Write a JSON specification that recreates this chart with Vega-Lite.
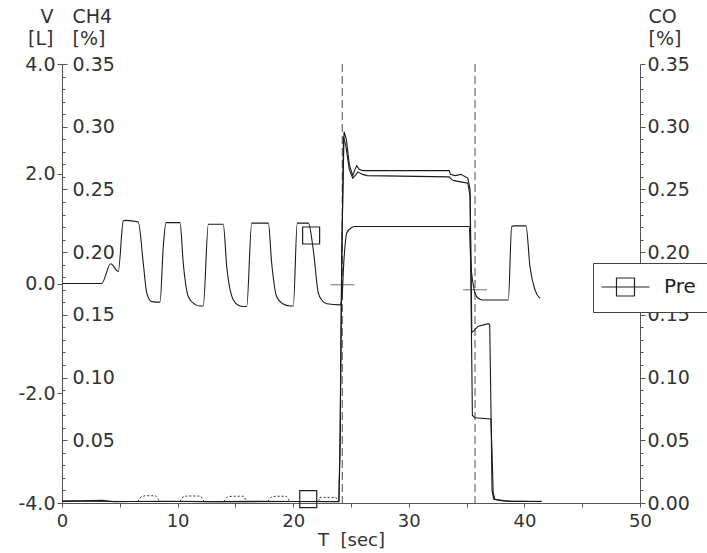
{
  "$schema": "https://vega.github.io/schema/vega-lite/v6.json",
  "width": 578,
  "height": 439,
  "autosize": {"type": "none"},
  "padding": {"left": 62, "top": 64, "right": 67, "bottom": 50},
  "background": "white",
  "config": {
    "view": {"stroke": null},
    "font": "DejaVu Sans",
    "axis": {
      "labelFont": "DejaVu Sans", "labelFontSize": 19, "labelColor": "#333",
      "titleFont": "DejaVu Sans", "titleFontSize": 19, "titleFontWeight": "normal", "titleColor": "#333",
      "domainColor": "#555", "tickColor": "#555", "grid": false, "labelFlush": false, "labelOverlap": false
    }
  },
  "datasets": {
    "events": [{"t": 24.25}, {"t": 35.73}],
    "squares": [{"series": "Pre", "t": 21.55, "v": 0.875}, {"series": "Pre", "t": 21.3, "v": -3.93}],
    "crosses": [{"t": 24.25, "c": 0.174}, {"t": 35.73, "c": 0.170}],
    "curves": [
      {"s": "V", "t": 0, "v": 0}, {"s": "V", "t": 3.43, "v": 0}, {"s": "V", "t": 4.21, "v": 0.36}, {"s": "V", "t": 4.87, "v": 0.22},
      {"s": "V", "t": 5.3, "v": 1.14}, {"s": "V", "t": 5.5, "v": 1.15}, {"s": "V", "t": 6.6, "v": 1.12}, {"s": "V", "t": 7.03, "v": 0.37},
      {"s": "V", "t": 7.33, "v": -0.17}, {"s": "V", "t": 7.76, "v": -0.33}, {"s": "V", "t": 8.48, "v": -0.34}, {"s": "V", "t": 8.76, "v": 0.67},
      {"s": "V", "t": 9.0, "v": 1.11}, {"s": "V", "t": 10.21, "v": 1.11}, {"s": "V", "t": 10.49, "v": 0.37}, {"s": "V", "t": 10.93, "v": -0.24},
      {"s": "V", "t": 11.5, "v": -0.38}, {"s": "V", "t": 11.94, "v": -0.41}, {"s": "V", "t": 12.22, "v": -0.41}, {"s": "V", "t": 12.66, "v": 1.08},
      {"s": "V", "t": 13.95, "v": 1.08}, {"s": "V", "t": 14.25, "v": 0.31}, {"s": "V", "t": 14.82, "v": -0.3}, {"s": "V", "t": 15.3, "v": -0.4},
      {"s": "V", "t": 15.68, "v": -0.42}, {"s": "V", "t": 15.98, "v": -0.42}, {"s": "V", "t": 16.41, "v": 1.1}, {"s": "V", "t": 17.85, "v": 1.1},
      {"s": "V", "t": 18.14, "v": 0.37}, {"s": "V", "t": 18.57, "v": -0.24}, {"s": "V", "t": 19.1, "v": -0.37}, {"s": "V", "t": 19.72, "v": -0.41},
      {"s": "V", "t": 20.01, "v": -0.41}, {"s": "V", "t": 20.35, "v": 1.1}, {"s": "V", "t": 21.31, "v": 1.1}, {"s": "V", "t": 21.74, "v": 0.61},
      {"s": "V", "t": 22.17, "v": -0.17}, {"s": "V", "t": 22.5, "v": -0.31}, {"s": "V", "t": 22.9, "v": -0.37}, {"s": "V", "t": 24.05, "v": -0.39},
      {"s": "V", "t": 24.2, "v": -0.3}, {"s": "V", "t": 24.39, "v": 0.43}, {"s": "V", "t": 24.63, "v": 0.92}, {"s": "V", "t": 25.06, "v": 1.02},
      {"s": "V", "t": 25.35, "v": 1.04}, {"s": "V", "t": 35.23, "v": 1.04}, {"s": "V", "t": 35.35, "v": 0.43}, {"s": "V", "t": 35.58, "v": -0.03},
      {"s": "V", "t": 35.87, "v": -0.24}, {"s": "V", "t": 36.2, "v": -0.29}, {"s": "V", "t": 36.45, "v": -0.3}, {"s": "V", "t": 38.61, "v": -0.3},
      {"s": "V", "t": 38.9, "v": 1.04}, {"s": "V", "t": 39.1, "v": 1.05}, {"s": "V", "t": 40.14, "v": 1.05}, {"s": "V", "t": 40.48, "v": 0.31},
      {"s": "V", "t": 40.92, "v": -0.12}, {"s": "V", "t": 41.35, "v": -0.27},

      {"s": "CH4", "t": 0, "v": 0.0015}, {"s": "CH4", "t": 1.5, "v": 0.0018}, {"s": "CH4", "t": 3.5, "v": 0.0022}, {"s": "CH4", "t": 4.5, "v": 0.001},
      {"s": "CH4", "t": 6, "v": 0.0012}, {"s": "CH4", "t": 9, "v": 0.0014}, {"s": "CH4", "t": 13, "v": 0.0011}, {"s": "CH4", "t": 17, "v": 0.0013},
      {"s": "CH4", "t": 20, "v": 0.0012}, {"s": "CH4", "t": 23.95, "v": 0.0012}, {"s": "CH4", "t": 24.05, "v": 0.05}, {"s": "CH4", "t": 24.2, "v": 0.2},
      {"s": "CH4", "t": 24.4, "v": 0.296}, {"s": "CH4", "t": 24.6, "v": 0.29}, {"s": "CH4", "t": 24.85, "v": 0.27}, {"s": "CH4", "t": 25.15, "v": 0.261},
      {"s": "CH4", "t": 25.35, "v": 0.266}, {"s": "CH4", "t": 25.5, "v": 0.269}, {"s": "CH4", "t": 25.7, "v": 0.266}, {"s": "CH4", "t": 26.0, "v": 0.265},
      {"s": "CH4", "t": 33.5, "v": 0.265}, {"s": "CH4", "t": 33.6, "v": 0.262}, {"s": "CH4", "t": 34.0, "v": 0.261}, {"s": "CH4", "t": 34.5, "v": 0.262},
      {"s": "CH4", "t": 35.1, "v": 0.259}, {"s": "CH4", "t": 35.3, "v": 0.25}, {"s": "CH4", "t": 35.4, "v": 0.18}, {"s": "CH4", "t": 35.45, "v": 0.136},
      {"s": "CH4", "t": 35.6, "v": 0.137}, {"s": "CH4", "t": 36.0, "v": 0.141}, {"s": "CH4", "t": 36.9, "v": 0.143}, {"s": "CH4", "t": 37.0, "v": 0.142},
      {"s": "CH4", "t": 37.1, "v": 0.08}, {"s": "CH4", "t": 37.2, "v": 0.01}, {"s": "CH4", "t": 37.35, "v": 0.003}, {"s": "CH4", "t": 38, "v": 0.0018},
      {"s": "CH4", "t": 39, "v": 0.0012}, {"s": "CH4", "t": 40, "v": 0.0014}, {"s": "CH4", "t": 41.5, "v": 0.0012},

      {"s": "CO", "t": 0, "v": 0.0013}, {"s": "CO", "t": 2, "v": 0.0015}, {"s": "CO", "t": 5, "v": 0.0012}, {"s": "CO", "t": 10, "v": 0.0012},
      {"s": "CO", "t": 15, "v": 0.0011}, {"s": "CO", "t": 20, "v": 0.0012}, {"s": "CO", "t": 23.95, "v": 0.0011}, {"s": "CO", "t": 24.05, "v": 0.04},
      {"s": "CO", "t": 24.2, "v": 0.19}, {"s": "CO", "t": 24.35, "v": 0.292}, {"s": "CO", "t": 24.55, "v": 0.285}, {"s": "CO", "t": 24.85, "v": 0.266},
      {"s": "CO", "t": 25.15, "v": 0.259}, {"s": "CO", "t": 25.45, "v": 0.262}, {"s": "CO", "t": 25.6, "v": 0.264}, {"s": "CO", "t": 26.0, "v": 0.262},
      {"s": "CO", "t": 26.4, "v": 0.261}, {"s": "CO", "t": 33.5, "v": 0.26}, {"s": "CO", "t": 33.7, "v": 0.258}, {"s": "CO", "t": 33.9, "v": 0.257},
      {"s": "CO", "t": 34.5, "v": 0.256}, {"s": "CO", "t": 35.1, "v": 0.255}, {"s": "CO", "t": 35.3, "v": 0.245}, {"s": "CO", "t": 35.4, "v": 0.15},
      {"s": "CO", "t": 35.5, "v": 0.07}, {"s": "CO", "t": 35.7, "v": 0.068}, {"s": "CO", "t": 37.1, "v": 0.067}, {"s": "CO", "t": 37.2, "v": 0.04},
      {"s": "CO", "t": 37.3, "v": 0.008}, {"s": "CO", "t": 37.45, "v": 0.003}, {"s": "CO", "t": 38.5, "v": 0.0015}, {"s": "CO", "t": 40.5, "v": 0.0012},
      {"s": "CO", "t": 41.5, "v": 0.0013},

      {"s": "Bump", "seg": 1, "t": 6.55, "v": 0.0013}, {"s": "Bump", "seg": 1, "t": 6.85, "v": 0.005}, {"s": "Bump", "seg": 1, "t": 7.2, "v": 0.0058}, {"s": "Bump", "seg": 1, "t": 8.1, "v": 0.0058}, {"s": "Bump", "seg": 1, "t": 8.45, "v": 0.0013},
      {"s": "Bump", "seg": 2, "t": 10.2, "v": 0.0013}, {"s": "Bump", "seg": 2, "t": 10.5, "v": 0.0052}, {"s": "Bump", "seg": 2, "t": 10.9, "v": 0.0056}, {"s": "Bump", "seg": 2, "t": 12.0, "v": 0.0055}, {"s": "Bump", "seg": 2, "t": 12.3, "v": 0.0013},
      {"s": "Bump", "seg": 3, "t": 14.0, "v": 0.0013}, {"s": "Bump", "seg": 3, "t": 14.3, "v": 0.0048}, {"s": "Bump", "seg": 3, "t": 14.7, "v": 0.0054}, {"s": "Bump", "seg": 3, "t": 15.7, "v": 0.0054}, {"s": "Bump", "seg": 3, "t": 16.0, "v": 0.0013},
      {"s": "Bump", "seg": 4, "t": 17.8, "v": 0.0013}, {"s": "Bump", "seg": 4, "t": 18.1, "v": 0.0048}, {"s": "Bump", "seg": 4, "t": 18.5, "v": 0.0054}, {"s": "Bump", "seg": 4, "t": 19.4, "v": 0.0054}, {"s": "Bump", "seg": 4, "t": 19.7, "v": 0.0013},
      {"s": "Bump", "seg": 5, "t": 22.2, "v": 0.0013}, {"s": "Bump", "seg": 5, "t": 22.3, "v": 0.0045}, {"s": "Bump", "seg": 5, "t": 23.7, "v": 0.0045}, {"s": "Bump", "seg": 5, "t": 23.85, "v": 0.0013}
    ]
  },
  "layer": [
    {
      "data": {"name": "events"},
      "mark": {"type": "rule", "color": "#777", "strokeDash": [8, 4], "strokeWidth": 1.3},
      "encoding": {
        "x": {
          "field": "t", "type": "quantitative",
          "scale": {"domain": [0, 50], "nice": false, "zero": false},
          "axis": {
            "title": "T\u00a0\u00a0[sec]", "values": [0, 5, 10, 15, 20, 25, 30, 35, 40, 45, 50],
            "labelExpr": "datum.value % 10 === 0 ? datum.label : ''",
            "tickSize": 4, "labelPadding": 5, "titlePadding": 1, "labelFontSize": 18, "titleFontSize": 18, "labelFlush": false
          }
        }
      }
    },
    {
      "data": {"name": "curves"},
      "transform": [{"filter": "datum.s === 'V'"}],
      "mark": {"type": "line", "color": "#1a1a1a", "strokeWidth": 1.1, "interpolate": "monotone"},
      "encoding": {
        "x": {"field": "t", "type": "quantitative", "scale": {"domain": [0, 50], "nice": false, "zero": false}},
        "y": {
          "field": "v", "type": "quantitative",
          "scale": {"domain": [-4, 4], "nice": false, "zero": false},
          "axis": {
            "orient": "left", "values": [-4, -2, 0, 2, 4], "format": ".1f",
            "labelExpr": "replace(datum.label, '\u2212', '-')",
            "tickSize": 5, "labelPadding": 2,
            "title": ["V", "[L]"], "titleAngle": 0, "titleAlign": "right", "titleBaseline": "top",
            "titleX": -9, "titleY": -57, "titleLineHeight": 22
          }
        }
      }
    },
    {
      "data": {"name": "curves"},
      "transform": [{"filter": "datum.s === 'CH4'"}],
      "mark": {"type": "line", "color": "#1a1a1a", "strokeWidth": 1.1},
      "encoding": {
        "x": {"field": "t", "type": "quantitative", "scale": {"domain": [0, 50], "nice": false, "zero": false}},
        "y": {
          "field": "v", "type": "quantitative",
          "scale": {"domain": [0, 0.35], "nice": false, "zero": false},
          "axis": {
            "orient": "right", "offset": -578,
            "values": [0.05, 0.1, 0.15, 0.2, 0.25, 0.3, 0.35], "format": ".2f",
            "tickSize": 5, "labelPadding": 5,
            "title": ["CH4", "[%]"], "titleAngle": 0, "titleAlign": "left", "titleBaseline": "top",
            "titleX": 10, "titleY": -57, "titleLineHeight": 22
          }
        }
      }
    },
    {
      "data": {"name": "curves"},
      "transform": [{"filter": "datum.s === 'CO'"}],
      "mark": {"type": "line", "color": "#1a1a1a", "strokeWidth": 1.1},
      "encoding": {
        "x": {"field": "t", "type": "quantitative", "scale": {"domain": [0, 50], "nice": false, "zero": false}},
        "y": {
          "field": "v", "type": "quantitative",
          "scale": {"domain": [0, 0.35], "nice": false, "zero": false},
          "axis": {
            "orient": "right",
            "values": [0, 0.05, 0.1, 0.15, 0.2, 0.25, 0.3, 0.35], "format": ".2f",
            "tickSize": 5, "labelPadding": 2,
            "title": ["CO", "[%]"], "titleAngle": 0, "titleAlign": "left", "titleBaseline": "top",
            "titleX": 8, "titleY": -57, "titleLineHeight": 22
          }
        }
      }
    },
    {
      "data": {"name": "curves"},
      "transform": [{"filter": "datum.s === 'Bump'"}],
      "mark": {"type": "line", "color": "#333", "strokeWidth": 1, "strokeDash": [2, 2]},
      "encoding": {
        "x": {"field": "t", "type": "quantitative", "scale": {"domain": [0, 50], "nice": false, "zero": false}},
        "detail": {"field": "seg", "type": "nominal"},
        "y": {
          "field": "v", "type": "quantitative",
          "scale": {"domain": [0, 0.35], "nice": false, "zero": false},
          "axis": {
            "orient": "right", "offset": -578,
            "values": [0.01, 0.02, 0.03, 0.04, 0.06, 0.07, 0.08, 0.09, 0.11, 0.12, 0.13, 0.14, 0.16, 0.17, 0.18, 0.19, 0.21, 0.22, 0.23, 0.24, 0.26, 0.27, 0.28, 0.29, 0.31, 0.32, 0.33, 0.34],
            "labels": false, "domain": false, "tickSize": 3, "title": null
          }
        }
      }
    },
    {
      "data": {"name": "crosses"},
      "mark": {"type": "tick", "orient": "horizontal", "color": "#333", "size": 24, "thickness": 1},
      "encoding": {
        "x": {"field": "t", "type": "quantitative", "scale": {"domain": [0, 50], "nice": false, "zero": false}},
        "y": {
          "field": "c", "type": "quantitative",
          "scale": {"domain": [0, 0.35], "nice": false, "zero": false},
          "axis": {
            "orient": "right",
            "values": [0.01, 0.02, 0.03, 0.04, 0.06, 0.07, 0.08, 0.09, 0.11, 0.12, 0.13, 0.14, 0.16, 0.17, 0.18, 0.19, 0.21, 0.22, 0.23, 0.24, 0.26, 0.27, 0.28, 0.29, 0.31, 0.32, 0.33, 0.34],
            "labels": false, "domain": false, "tickSize": 3, "title": null
          }
        }
      }
    },
    {
      "data": {"name": "squares"},
      "mark": {"type": "point", "shape": "square", "filled": false, "size": 289, "strokeWidth": 1.2, "opacity": 1},
      "encoding": {
        "x": {"field": "t", "type": "quantitative", "scale": {"domain": [0, 50], "nice": false, "zero": false}},
        "y": {
          "field": "v", "type": "quantitative",
          "scale": {"domain": [-4, 4], "nice": false, "zero": false},
          "axis": null
        },
        "color": {
          "field": "series", "type": "nominal",
          "scale": {"domain": ["Pre"], "range": ["#222"]},
          "legend": {
            "orient": "none", "legendX": 531, "legendY": 199, "title": null,
            "padding": 13, "strokeColor": "#444", "fillColor": "white", "cornerRadius": 0,
            "labelFontSize": 20, "labelFont": "DejaVu Sans", "labelColor": "#222", "labelOffset": 36,
            "symbolType": "M-1.55,0H3.25M-0.05,-0.9H1.75V0.9H-0.05Z", "symbolSize": 400,
            "symbolStrokeWidth": 1.2, "symbolStrokeColor": "#222", "symbolFillColor": "transparent"
          }
        }
      }
    }
  ],
  "resolve": {"scale": {"y": "independent"}, "axis": {"y": "independent"}}
}
